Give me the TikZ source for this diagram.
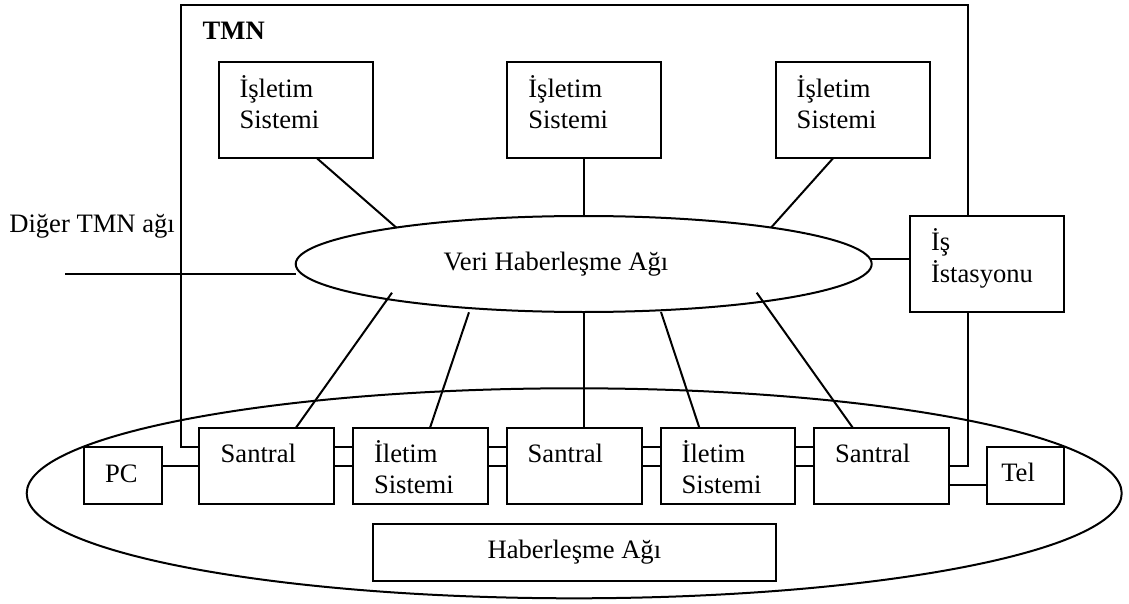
\documentclass[tikz,border=0pt]{standalone}
\usepackage{fontspec}
\setmainfont{Liberation Serif}
\usetikzlibrary{calc,shapes.geometric}
\begin{document}
\begin{tikzpicture}[x=1pt,y=-1pt,line width=2pt,
  every node/.style={font=\fontsize{26.6pt}{31.5pt}\selectfont},
  unit/.style 2 args={draw,fill=white,rectangle,inner sep=0pt,outer sep=0pt,
    anchor=north west,minimum width=#1pt,minimum height=#2pt},
  net/.style 2 args={draw,ellipse,inner sep=0pt,outer sep=0pt,
    minimum width=#1pt,minimum height=#2pt},
  lbl/.style={inner sep=0pt,outer sep=0pt,anchor=base west,align=left,text width=150pt},
]
\useasboundingbox (0,0) rectangle (1129,604);

% communication network (outer ellipse) and data network
\node[net={1095}{210}] (hnet) at (574.2,493.3) {};
\node[net={576}{96}] (veri) at (583.7,264) {};
\node[inner sep=0pt,anchor=base west] (veritext) at (442.7,270) {Veri Haberleşme Ağı};

% TMN frame corners and the outside link
\coordinate (tmnTL) at (180.7,5);
\coordinate (tmnTR) at (968.3,5);
\coordinate (dig) at (65,274);
\node[inner sep=0pt,anchor=base west,font=\fontsize{26.6pt}{31.5pt}\selectfont\bfseries] (tmn) at (201.7,40) {TMN};
\node[inner sep=0pt,anchor=base west] (diger) at (8.3,232.3) {Diğer TMN ağı};

% operation systems
\node[unit={154}{96.3}] (os1) at (219,61.7) {};
\node[unit={154}{96.3}] (os2) at (507.3,61.7) {};
\node[unit={154}{96.3}] (os3) at (776,61.7) {};
\node[lbl] (os1t) at ($(os1.north west)+(20.5,35.6)$) {İşletim\\Sistemi};
\node[lbl] (os2t) at ($(os2.north west)+(21,35.6)$) {İşletim\\Sistemi};
\node[lbl] (os3t) at ($(os3.north west)+(20.7,35.6)$) {İşletim\\Sistemi};

% workstation
\node[unit={154.3}{96.3}] (is) at (910,216) {};
\node[lbl] (ist) at ($(is.north west)+(21,34.7)$) {İş\\İstasyonu};

% switches, transmission systems and terminals
\node[unit={77.4}{57.6}] (pc) at (84.3,446.7) {};
\node[unit={135}{76.6}] (sa1) at (199.3,427.7) {};
\node[unit={134.4}{76.6}] (il1) at (353.3,427.7) {};
\node[unit={135.6}{76.6}] (sa2) at (506.7,427.7) {};
\node[unit={134.6}{76.6}] (il2) at (660.7,427.7) {};
\node[unit={135}{76.6}] (sa3) at (814,427.7) {};
\node[unit={76.7}{57.6}] (tel) at (987.3,446.7) {};
\node[unit={403.3}{57.3}] (hab) at (372.7,524) {};

\node[lbl] (pct) at ($(pc.north west)+(20.7,36)$) {PC};
\node[lbl] (sa1t) at ($(sa1.north west)+(21.4,34.6)$) {Santral};
\node[lbl] (il1t) at ($(il1.north west)+(20.7,34.6)$) {İletim\\Sistemi};
\node[lbl] (sa2t) at ($(sa2.north west)+(21,34.6)$) {Santral};
\node[lbl] (il2t) at ($(il2.north west)+(21,34.6)$) {İletim\\Sistemi};
\node[lbl] (sa3t) at ($(sa3.north west)+(21,34.6)$) {Santral};
\node[lbl] (telt) at ($(tel.north west)+(14,35)$) {Tel};
\node[inner sep=0pt,anchor=base] (habt) at ($(hab.north)+(0,34.3)$) {Haberleşme Ağı};

% TMN boundary
\draw ($(sa1.north west)!0.25!(sa1.south west)$) -| (tmnTL) -- (tmnTR) -- (tmnTR |- is.north);
\draw (tmnTR |- is.south) |- (sa3.east);

% link to the other TMN
\draw (dig) -- (dig -| veri.west);

% operation systems and workstation to the data network
\draw ($(os1.south west)!0.634!(os1.south east)$) -- (veri.169.9);
\draw (os2.south) -- (os2.south |- veri.north);
\draw ($(os3.south west)!0.372!(os3.south east)$) -- (veri.11.7);
\draw (veri.1.9) -- (veri.1.9 -| is.west);

% data network down to the network elements
\draw ($(veri.center)+(-191.7,28.7)$) -- ($(sa1.north west)!0.716!(sa1.north east)$);
\draw ($(veri.center)+(-114.7,48.3)$) -- ($(il1.north west)!0.571!(il1.north east)$);
\draw (veri.south) -- (veri.south |- sa2.north);
\draw ($(veri.center)+(77.3,48)$) -- ($(il2.north west)!0.287!(il2.north east)$);
\draw ($(veri.center)+(173,28.7)$) -- ($(sa3.north west)!0.287!(sa3.north east)$);

% double links along the chain
\foreach \a/\b in {sa1/il1,il1/sa2,sa2/il2,il2/sa3}{
  \coordinate (q) at ($(\a.north east)!0.25!(\a.south east)$);
  \draw (q) -- (q -| \b.west);
  \draw (\a.east) -- (\a.east -| \b.west);
}

% terminals
\draw (sa1.west) -- (sa1.west -| pc.east);
\coordinate (tq) at ($(sa3.north east)!0.75!(sa3.south east)$);
\draw (tq) -- (tq -| tel.west);
\end{tikzpicture}
\end{document}
